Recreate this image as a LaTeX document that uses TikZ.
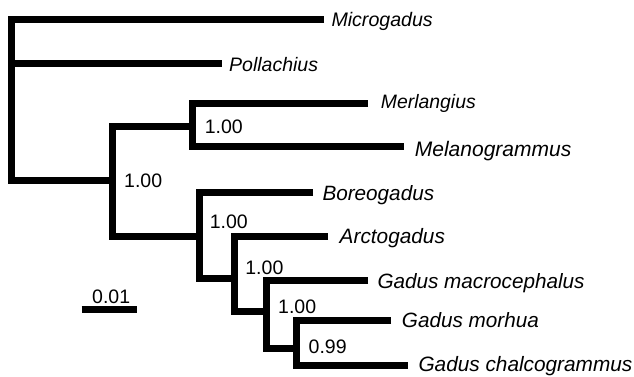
\documentclass[tikz,border=0pt]{standalone}
\usepackage{fontspec}
\setmainfont{Liberation Sans}
\newcommand{\tx}[1]{\fontsize{#1}{22}\selectfont\itshape}
\begin{document}
\begin{tikzpicture}[x=1pt,y=-1pt,
  branch/.style={line width=7pt, line cap=butt, line join=miter},
  taxon/.style={anchor=base west, inner sep=0pt},
  support/.style={font=\fontsize{19.5}{22}\selectfont, anchor=west, inner sep=0pt}]
\useasboundingbox (0,0) rectangle (634,376);
% internal nodes
\coordinate (root) at (11.5,100);
\coordinate (nB) at (112.5,180.5);
\coordinate (nA) at (192.5,126.5);
\coordinate (nC) at (199.5,236.5);
\coordinate (nD) at (234,278);
\coordinate (nE) at (266.5,311.5);
\coordinate (nF) at (296,348.5);
% tips
\coordinate (tMicro) at (324,19.5);
\coordinate (tPoll) at (222,63.5);
\coordinate (tMerl) at (368,103);
\coordinate (tMela) at (404,146.5);
\coordinate (tBore) at (313,192.5);
\coordinate (tArct) at (328,236.5);
\coordinate (tGmac) at (368,280.5);
\coordinate (tGmor) at (391,320);
\coordinate (tGcha) at (408,365);
% branches
\draw[branch] (tMicro) -| (root) |- (nB);
\draw[branch] (root |- tPoll) -- (tPoll);
\draw[branch] (tMerl) -| (nA) |- (tMela);
\draw[branch] (nA) -| (nB) |- (nC);
\draw[branch] (tBore) -| (nC) |- (nD);
\draw[branch] (tArct) -| (nD) |- (nE);
\draw[branch] (tGmac) -| (nE) |- (nF);
\draw[branch] (tGmor) -| (nF) |- (tGcha);
% taxon labels
\node[taxon, font=\tx{19.6}] (lMicro) at (331.3,26.7) {Microgadus};
\node[taxon, font=\tx{19.5}] (lPoll) at (229,71) {Pollachius};
\node[taxon, font=\tx{19.4}] (lMerl) at (380.7,108.7) {Merlangius};
\node[taxon, font=\tx{21}] (lMela) at (414.7,156) {Melanogrammus};
\node[taxon, font=\tx{20.7}] (lBore) at (322.3,200.5) {Boreogadus};
\node[taxon, font=\tx{20.8}] (lArct) at (339.5,243.5) {Arctogadus};
\node[taxon, font=\tx{20.7}] (lGmac) at (377.3,288) {Gadus macrocephalus};
\node[taxon, font=\tx{20.7}] (lGmor) at (401.7,327) {Gadus morhua};
\node[taxon, font=\tx{20.8}] (lGcha) at (418.3,371) {Gadus chalcogrammus};
% support values
\node[support] (sA) at (204.6,126.3) {1.00};
\node[support] (sB) at (124,180.7) {1.00};
\node[support] (sC) at (209.6,221.7) {1.00};
\node[support] (sD) at (245.2,268) {1.00};
\node[support] (sE) at (278,306.3) {1.00};
\node[support] (sF) at (308.5,347) {0.99};
% scale bar
\coordinate (sb1) at (81.7,309.3);
\coordinate (sb2) at (136.7,309.3);
\draw[branch] (sb1) -- (sb2);
\node[support] (sbl) at (92,296.7) {0.01};
\end{tikzpicture}
\end{document}
